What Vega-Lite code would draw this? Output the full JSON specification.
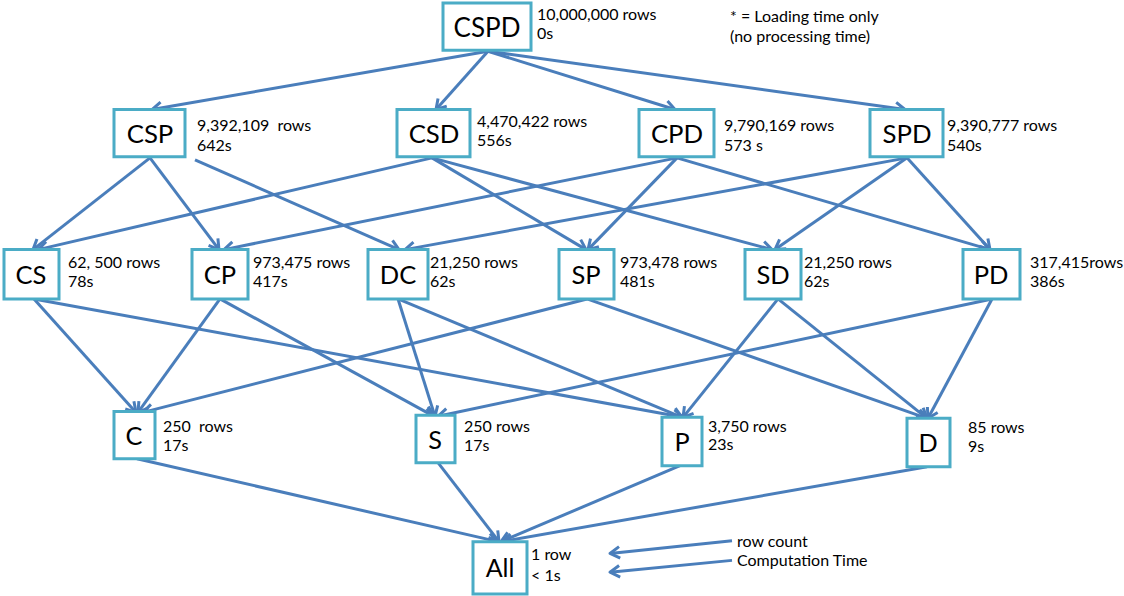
{
  "$schema": "https://vega.github.io/schema/vega-lite/v6.json",
  "width": 1124,
  "height": 596,
  "autosize": {"type": "fit", "contains": "padding"},
  "padding": 0,
  "background": "white",
  "config": {"view": {"stroke": null}},
  "datasets": {
    "edges": [
      {"x1": 488, "y1": 52, "x2": 152, "y2": 111},
      {"x1": 488, "y1": 52, "x2": 436, "y2": 111},
      {"x1": 488, "y1": 52, "x2": 675, "y2": 111},
      {"x1": 488, "y1": 52, "x2": 905, "y2": 111},
      {"x1": 150, "y1": 160, "x2": 33, "y2": 253},
      {"x1": 150, "y1": 160, "x2": 219, "y2": 253},
      {"x1": 195, "y1": 162, "x2": 399, "y2": 253},
      {"x1": 432, "y1": 160, "x2": 38, "y2": 253},
      {"x1": 432, "y1": 160, "x2": 586, "y2": 253},
      {"x1": 432, "y1": 160, "x2": 772, "y2": 253},
      {"x1": 677, "y1": 160, "x2": 224, "y2": 253},
      {"x1": 677, "y1": 160, "x2": 588, "y2": 253},
      {"x1": 677, "y1": 160, "x2": 990, "y2": 253},
      {"x1": 907, "y1": 160, "x2": 405, "y2": 253},
      {"x1": 907, "y1": 160, "x2": 775, "y2": 253},
      {"x1": 907, "y1": 160, "x2": 990, "y2": 253},
      {"x1": 34, "y1": 303, "x2": 136, "y2": 418},
      {"x1": 34, "y1": 303, "x2": 683, "y2": 423},
      {"x1": 220, "y1": 303, "x2": 138, "y2": 418},
      {"x1": 220, "y1": 303, "x2": 434, "y2": 422},
      {"x1": 398, "y1": 303, "x2": 435, "y2": 422},
      {"x1": 398, "y1": 303, "x2": 682, "y2": 423},
      {"x1": 587, "y1": 303, "x2": 143, "y2": 418},
      {"x1": 587, "y1": 303, "x2": 927, "y2": 424},
      {"x1": 778, "y1": 303, "x2": 683, "y2": 423},
      {"x1": 778, "y1": 303, "x2": 927, "y2": 424},
      {"x1": 992, "y1": 303, "x2": 438, "y2": 422},
      {"x1": 992, "y1": 303, "x2": 928, "y2": 424},
      {"x1": 137, "y1": 465, "x2": 498, "y2": 549},
      {"x1": 438, "y1": 469, "x2": 499, "y2": 549},
      {"x1": 680, "y1": 472, "x2": 501, "y2": 549},
      {"x1": 927, "y1": 473, "x2": 502, "y2": 549},
      {"x1": 732, "y1": 548, "x2": 610, "y2": 561},
      {"x1": 732, "y1": 568, "x2": 610, "y2": 580}
    ],
    "nodes": [
      {"name": "CSPD", "x1": 443, "x2": 531, "y1": 3, "y2": 51, "cx": 487, "cy": 29, "lvl": 1},
      {"name": "CSP", "x1": 114, "x2": 185, "y1": 111, "y2": 159, "cx": 150, "cy": 137, "lvl": 2},
      {"name": "CSD", "x1": 397, "x2": 470, "y1": 111, "y2": 159, "cx": 434, "cy": 137, "lvl": 2},
      {"name": "CPD", "x1": 639, "x2": 714, "y1": 111, "y2": 159, "cx": 677, "cy": 137, "lvl": 2},
      {"name": "SPD", "x1": 870, "x2": 943, "y1": 111, "y2": 159, "cx": 907, "cy": 137, "lvl": 2},
      {"name": "CS", "x1": 4, "x2": 59, "y1": 253, "y2": 303, "cx": 31, "cy": 280, "lvl": 3},
      {"name": "CP", "x1": 192, "x2": 248, "y1": 253, "y2": 303, "cx": 220, "cy": 280, "lvl": 3},
      {"name": "DC", "x1": 368, "x2": 428, "y1": 253, "y2": 303, "cx": 398, "cy": 280, "lvl": 3},
      {"name": "SP", "x1": 559, "x2": 614, "y1": 253, "y2": 303, "cx": 586, "cy": 280, "lvl": 3},
      {"name": "SD", "x1": 745, "x2": 801, "y1": 253, "y2": 303, "cx": 773, "cy": 280, "lvl": 3},
      {"name": "PD", "x1": 963, "x2": 1020, "y1": 253, "y2": 303, "cx": 991, "cy": 280, "lvl": 3},
      {"name": "C", "x1": 114, "x2": 155, "y1": 417, "y2": 465, "cx": 134, "cy": 443, "lvl": 4},
      {"name": "S", "x1": 416, "x2": 455, "y1": 421, "y2": 469, "cx": 435, "cy": 447, "lvl": 4},
      {"name": "P", "x1": 662, "x2": 702, "y1": 423, "y2": 472, "cx": 682, "cy": 449, "lvl": 4},
      {"name": "D", "x1": 907, "x2": 950, "y1": 424, "y2": 473, "cx": 928, "cy": 450, "lvl": 4},
      {"name": "All", "x1": 473, "x2": 527, "y1": 549, "y2": 602, "cx": 500, "cy": 577, "lvl": 5}
    ],
    "notes": [
      {"x": 537, "y": 15, "t": "10,000,000 rows"},
      {"x": 537, "y": 34, "t": "0s"},
      {"x": 730, "y": 17, "t": "* = Loading time only"},
      {"x": 730, "y": 37, "t": "(no processing time)"},
      {"x": 197, "y": 128, "t": "9,392,109\u00a0 rows"},
      {"x": 197, "y": 148, "t": "642s"},
      {"x": 477, "y": 124, "t": "4,470,422 rows"},
      {"x": 477, "y": 143, "t": "556s"},
      {"x": 724, "y": 128, "t": "9,790,169 rows"},
      {"x": 724, "y": 148, "t": "573 s"},
      {"x": 947, "y": 128, "t": "9,390,777 rows"},
      {"x": 947, "y": 148, "t": "540s"},
      {"x": 68, "y": 267, "t": "62, 500 rows"},
      {"x": 68, "y": 286, "t": "78s"},
      {"x": 253, "y": 267, "t": "973,475 rows"},
      {"x": 253, "y": 286, "t": "417s"},
      {"x": 430, "y": 267, "t": "21,250 rows"},
      {"x": 430, "y": 286, "t": "62s"},
      {"x": 620, "y": 267, "t": "973,478 rows"},
      {"x": 620, "y": 286, "t": "481s"},
      {"x": 804, "y": 267, "t": "21,250 rows"},
      {"x": 804, "y": 286, "t": "62s"},
      {"x": 1030, "y": 267, "t": "317,415rows"},
      {"x": 1030, "y": 286, "t": "386s"},
      {"x": 163, "y": 433, "t": "250\u00a0 rows"},
      {"x": 163, "y": 452, "t": "17s"},
      {"x": 464, "y": 433, "t": "250 rows"},
      {"x": 464, "y": 452, "t": "17s"},
      {"x": 708, "y": 433, "t": "3,750 rows"},
      {"x": 708, "y": 451, "t": "23s"},
      {"x": 968, "y": 434, "t": "85 rows"},
      {"x": 968, "y": 453, "t": "9s"},
      {"x": 531, "y": 563, "t": "1 row"},
      {"x": 531, "y": 584, "t": "< 1s"},
      {"x": 737, "y": 549, "t": "row count"},
      {"x": 737, "y": 569, "t": "Computation Time"}
    ]
  },
  "layer": [
    {
      "data": {"name": "edges"},
      "mark": {"type": "rule", "stroke": "#4a7ebb", "strokeWidth": 3},
      "encoding": {
        "x": {"field": "x1", "type": "quantitative", "scale": {"domain": [0, 1124], "nice": false, "zero": false}, "axis": null},
        "y": {"field": "y1", "type": "quantitative", "scale": {"domain": [0, 596], "nice": false, "zero": false, "reverse": true}, "axis": null},
        "x2": {"field": "x2"},
        "y2": {"field": "y2"}
      }
    },
    {
      "data": {"name": "edges"},
      "transform": [{"calculate": "atan2(datum.x2 - datum.x1, datum.y1 - datum.y2) * 180 / PI", "as": "ang"}],
      "mark": {"type": "point", "shape": "M-0.75,1.25L0,0L0.75,1.25", "filled": false, "stroke": "#4a7ebb", "strokeWidth": 3, "strokeJoin": "round", "size": 240, "opacity": 1},
      "encoding": {
        "x": {"field": "x2", "type": "quantitative", "scale": {"domain": [0, 1124], "nice": false, "zero": false}, "axis": null},
        "y": {"field": "y2", "type": "quantitative", "scale": {"domain": [0, 596], "nice": false, "zero": false, "reverse": true}, "axis": null},
        "angle": {"field": "ang", "type": "quantitative", "scale": null}
      }
    },
    {
      "data": {"name": "nodes"},
      "mark": {"type": "rect", "fill": "white", "stroke": "#4bacc6", "strokeWidth": 3},
      "encoding": {
        "x": {"field": "x1", "type": "quantitative", "scale": {"domain": [0, 1124], "nice": false, "zero": false}, "axis": null},
        "x2": {"field": "x2"},
        "y": {"field": "y1", "type": "quantitative", "scale": {"domain": [0, 596], "nice": false, "zero": false, "reverse": true}, "axis": null},
        "y2": {"field": "y2"}
      }
    },
    {
      "data": {"name": "nodes"},
      "mark": {"type": "text", "font": "Lato", "align": "center", "baseline": "middle", "color": "black"},
      "encoding": {
        "x": {"field": "cx", "type": "quantitative", "scale": {"domain": [0, 1124], "nice": false, "zero": false}, "axis": null},
        "y": {"field": "cy", "type": "quantitative", "scale": {"domain": [0, 596], "nice": false, "zero": false, "reverse": true}, "axis": null},
        "text": {"field": "name"},
        "size": {"field": "lvl", "type": "ordinal", "scale": {"domain": [1, 2, 3, 4, 5], "range": [26, 25, 27, 24, 27]}, "legend": null}
      }
    },
    {
      "data": {"name": "notes"},
      "mark": {"type": "text", "font": "Lato", "fontSize": 16, "align": "left", "baseline": "middle", "color": "black"},
      "encoding": {
        "x": {"field": "x", "type": "quantitative", "scale": {"domain": [0, 1124], "nice": false, "zero": false}, "axis": null},
        "y": {"field": "y", "type": "quantitative", "scale": {"domain": [0, 596], "nice": false, "zero": false, "reverse": true}, "axis": null},
        "text": {"field": "t"}
      }
    }
  ]
}
